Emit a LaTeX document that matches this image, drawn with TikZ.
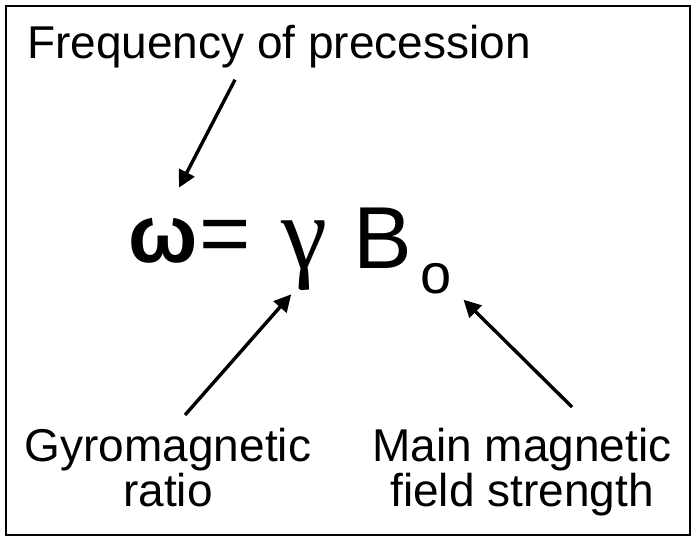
\documentclass[tikz,border=0pt]{standalone}
\usepackage{fontspec}
\setmainfont{Liberation Sans}
\newfontfamily\gammafont{Liberation Serif}
\usetikzlibrary{arrows.meta}

\tikzset{
  label/.style={inner sep=0pt, font=\fontsize{46}{45}\selectfont},
  eqpart/.style={inner sep=0pt, anchor=base west},
  arr/.style={line width=3.4pt, -{Triangle[length=17pt,width=17pt]}}
}

\begin{document}
\begin{tikzpicture}[x=1pt,y=-1pt]
\useasboundingbox (0,0) rectangle (698,543);
% Frame
\draw[line width=1.6pt] (6,6) rectangle (690,535);

% Top label
\node[label, anchor=base west] (freq) at (27,59) {Frequency of precession};

% Equation
\node[eqpart, font=\fontsize{82}{82}\selectfont\bfseries] (omega) at (128,262) {ω};
\node[eqpart, font=\fontsize{88}{88}\selectfont] (equals) at (199,263) {=};
\node[eqpart, font=\fontsize{104}{104}\gammafont] (gamma) at (281,268) {γ};
\node[eqpart, font=\fontsize{88}{88}\selectfont] (field) at (353,268) {B};
\node[eqpart, font=\fontsize{56}{56}\selectfont] (sub) at (420,293) {o};

% Bottom labels
\node[label, align=center, anchor=north] (gyro) at (168,428) {Gyromagnetic\\ratio};
\node[label, align=center, anchor=north] (main) at (522,428) {Main magnetic\\field strength};

% Arrows
\draw[arr] ([xshift=208pt,yshift=-11pt]freq.south west) -- ([xshift=51pt,yshift=30pt]omega.north west);
\draw[arr] ([xshift=17pt,yshift=13pt]gyro.north) -- ([xshift=-13pt,yshift=-4pt]gamma.south);
\draw[arr] ([xshift=50pt,yshift=21pt]main.north) -- ([xshift=12pt,yshift=-6pt]sub.south east);
\end{tikzpicture}
\end{document}
